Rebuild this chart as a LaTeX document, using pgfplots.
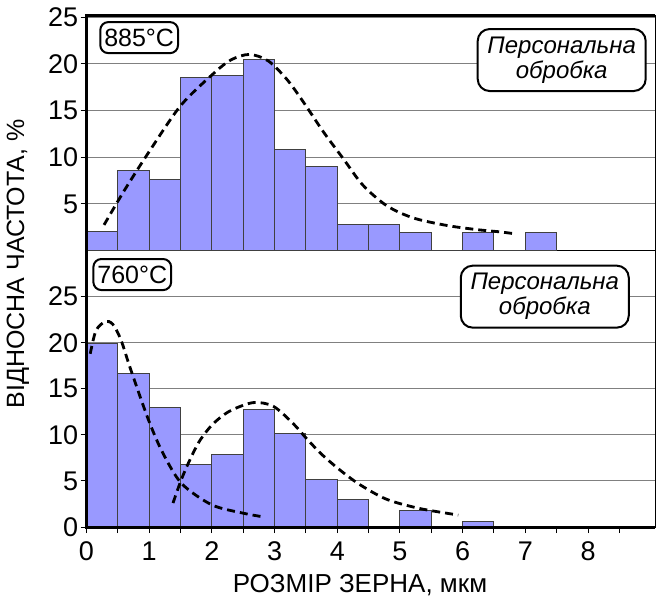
\documentclass[border=0pt]{standalone}
\usepackage{fontspec}
\setmainfont{Liberation Sans}
\usepackage{pgfplots}
\pgfplotsset{compat=1.18}
\usetikzlibrary{calc}
\definecolor{barfill}{HTML}{9999FF}
\definecolor{baredge}{HTML}{404040}

\pgfplotsset{panel/.style={
  scale only axis, width=284.3pt, xmin=0, xmax=9.07, ymin=0,
  clip=false,
  axis line style={line width=0.4pt},
  ymajorgrids, grid style={gray, line width=0.5pt},
  tick align=outside, major tick length=3pt, minor tick length=3pt,
  tick style={black, line width=0.5pt},
  xtick pos=bottom, ytick pos=left,
  ticklabel style={font=\fontsize{13.5}{16}\selectfont},
  yticklabel style={inner xsep=1pt},
  /pgf/number format/assume math mode=true,
}}
\tikzset{
  bars/.style={ybar interval, fill=barfill, draw=baredge, line width=0.5pt},
  fitline/.style={smooth, black, line width=1.4pt, dash pattern=on 4pt off 2.5pt},
  tbox/.style={draw, fill=white, rounded corners=4pt, line width=1pt, inner xsep=2pt,
    minimum height=14pt, font=\fontsize{12.5}{15}\selectfont},
  pbox/.style={draw, fill=white, rounded corners=6pt, line width=1pt, align=center,
    minimum width=84pt, minimum height=31pt, inner sep=1pt,
    font=\fontsize{12}{12.5}\selectfont\itshape},
}

\begin{document}
\begin{tikzpicture}
% lower panel: 760 C
\begin{axis}[panel, name=bot, height=138.2pt, ymax=30,
  ytick={0,5,...,25},
  xtick={0,1,...,8}, minor xtick={0.5,1.5,...,8.5},
  xticklabel style={yshift=-1pt}]
\addplot[bars] coordinates {
  (0,19.9) (0.5,16.7) (1,13.0) (1.5,6.8) (2,7.9) (2.5,12.8) (3,10.1)
  (3.5,5.2) (4,3.0) (4.5,0) (5,1.8) (5.5,0) (6,0.6) (6.5,0)
};
\addplot[fitline] coordinates {
  (0.06,18.8) (0.15,21.3) (0.3,22.3) (0.42,22.0) (0.55,20.3) (0.7,17.2)
  (0.99,11.6) (1.22,8.0) (1.52,4.7) (2.0,2.4) (2.5,1.5) (2.82,1.1)
};
\addplot[fitline] coordinates {
  (1.38,2.6) (1.51,5.1) (1.65,7.3) (1.81,9.4) (2.02,11.2) (2.29,12.6)
  (2.66,13.5) (2.98,13.1) (3.30,11.2) (3.51,9.6) (3.75,7.9) (4.04,6.2)
  (4.36,4.6) (4.79,3.0) (5.32,2.0) (5.93,1.3)
};
\node[tbox] at (axis cs:0.73,27.4) {760°C};
\node[pbox] at (axis cs:7.31,25.0) {Персональна\\обробка};
\draw[line width=1.5pt] (rel axis cs:0,1) -- (rel axis cs:0,0) -- (rel axis cs:1,0);
\end{axis}
% upper panel: 885 C
\begin{axis}[panel, at={(bot.north west)}, anchor=south west,
  height=117.7pt, ymax=25.2,
  ytick={5,10,...,25}, xtick=\empty]
\addplot[bars] coordinates {
  (0,2.0) (0.5,8.6) (1,7.6) (1.5,18.5) (2,18.7) (2.5,20.5) (3,10.8)
  (3.5,9.0) (4,2.75) (4.5,2.75) (5,1.9) (5.5,0) (6,1.9) (6.5,0) (7,1.9) (7.5,0)
};
\addplot[fitline] coordinates {
  (0.28,2.75) (0.6,6.4) (1.0,10.6) (1.5,15.5) (2.0,18.8) (2.3,20.4)
  (2.6,21.0) (2.9,20.3) (3.2,18.3) (3.46,15.9) (3.78,12.7) (4.1,9.8)
  (4.41,7.0) (4.79,4.8) (5.21,3.5) (5.74,2.7) (6.22,2.25) (6.6,2.0) (6.83,1.8)
};
\node[tbox] at (axis cs:0.84,22.8) {885°C};
\node[pbox] at (axis cs:7.58,20.4) {Персональна\\обробка};
\draw[line width=1.5pt] (rel axis cs:0,0) -- (rel axis cs:0,1) -- (rel axis cs:1,1);
\end{axis}
\node[rotate=90, font=\fontsize{12.5}{15}\selectfont]
  at ($(bot.south west)+(-34.25pt,131.5pt)$) {ВІДНОСНА ЧАСТОТА, \%};
\node[font=\fontsize{13}{15}\selectfont]
  at ($(bot.south west)+(136.75pt,-29pt)$) {РОЗМІР ЗЕРНА, мкм};
\pgfresetboundingbox
\path ($(bot.south west)+(-43.25pt,-38pt)$) rectangle ($(bot.south west)+(284.75pt,263.5pt)$);
\end{tikzpicture}
\end{document}
